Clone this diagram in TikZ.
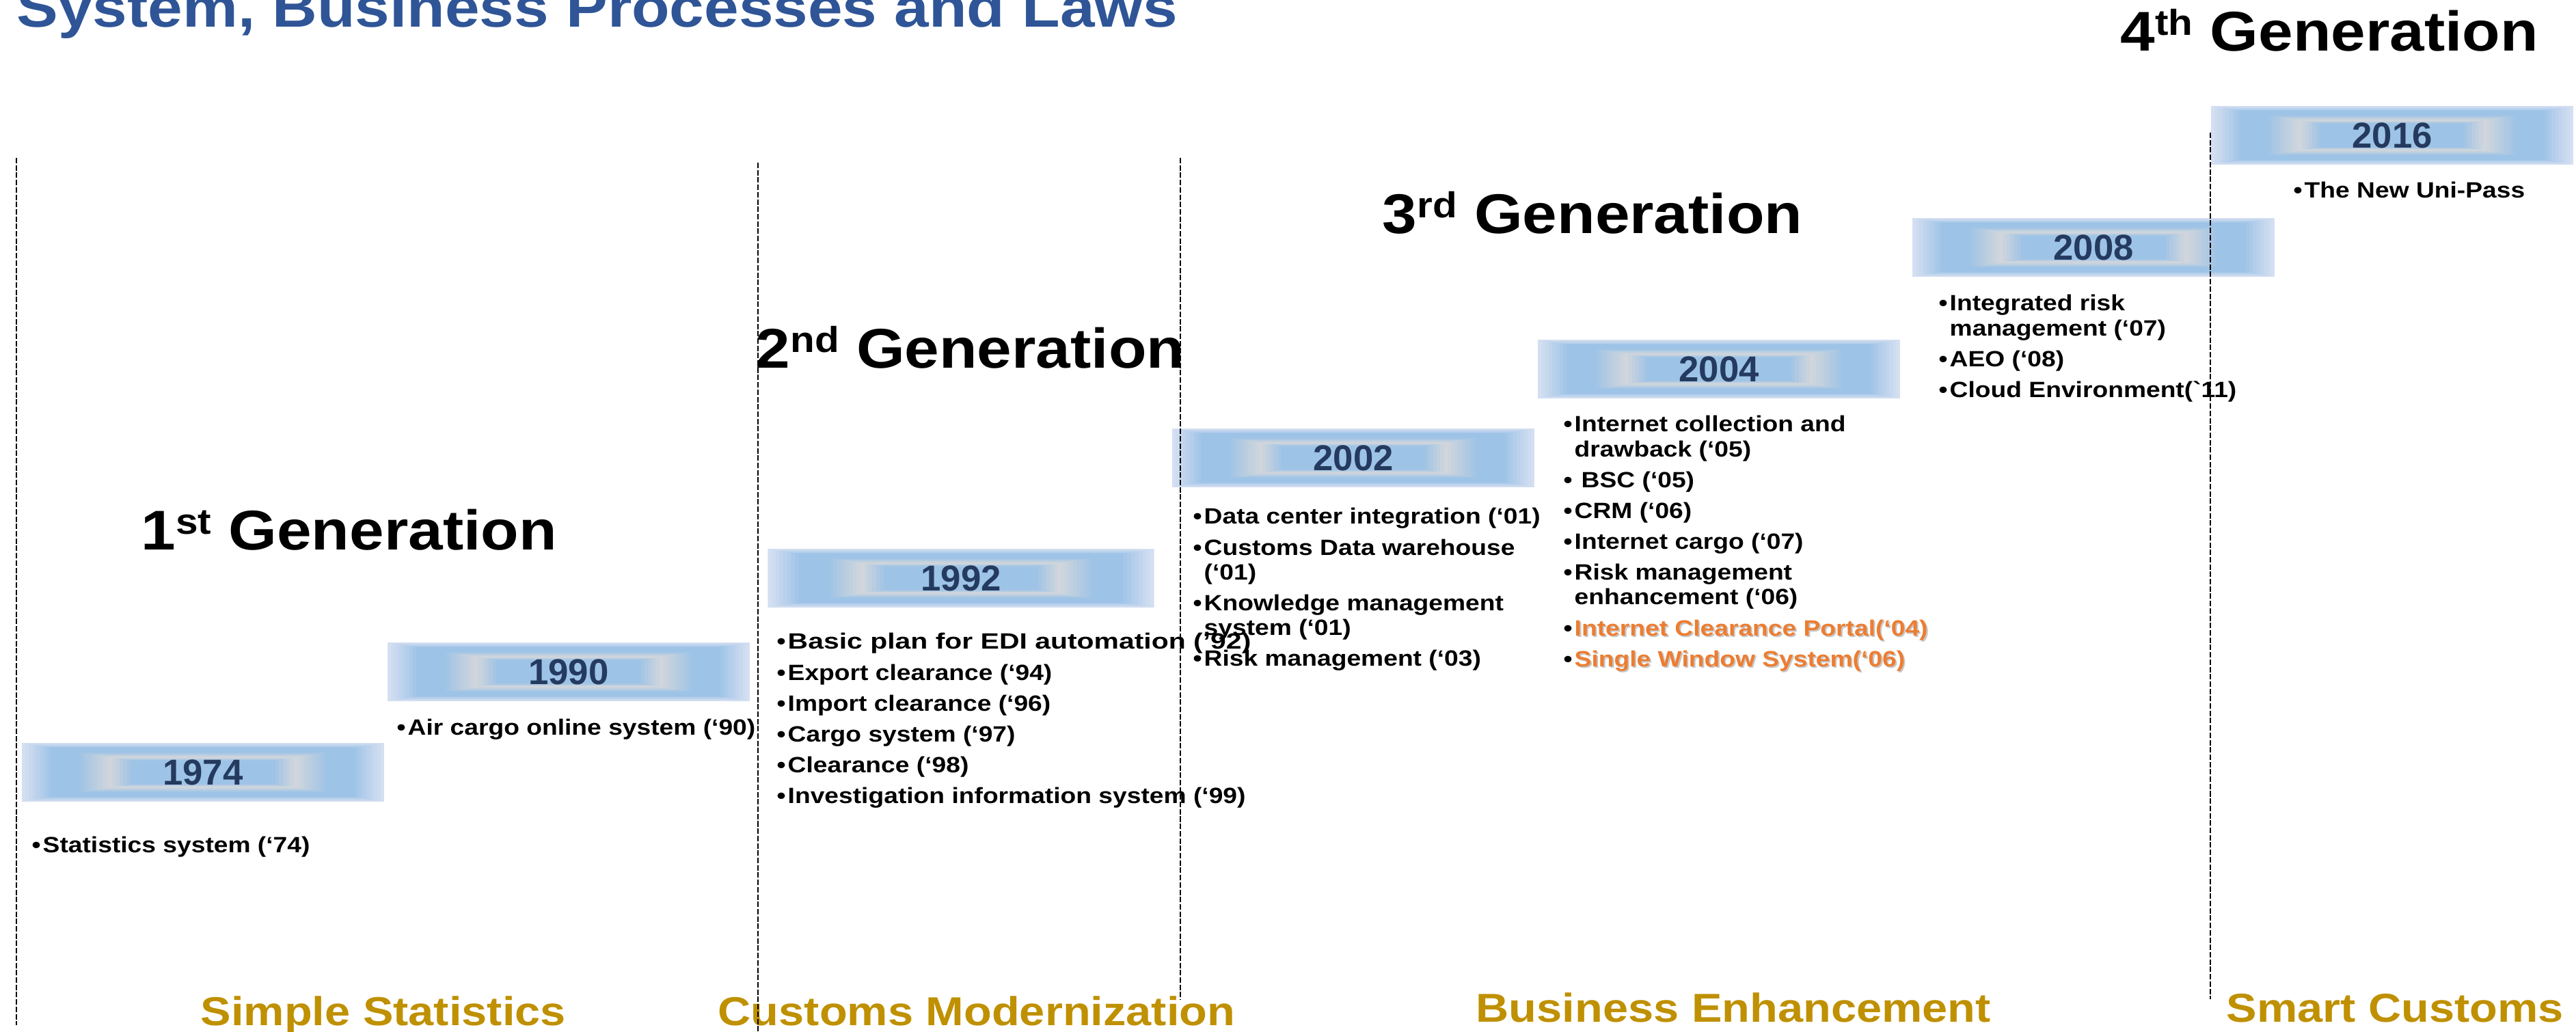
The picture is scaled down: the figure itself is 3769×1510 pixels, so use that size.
\documentclass[tikz,border=0pt]{standalone}
\usepackage{fontspec}
\usepackage{xcolor}
\usepackage{graphicx}
\usetikzlibrary{calc}

\newfontfamily\headfont{Liberation Sans}[FakeStretch=1.11]
\newfontfamily\itemfont{Liberation Sans}[FakeStretch=1.15]
\newfontfamily\yearfont{Liberation Sans}
\newfontfamily\phasefont{Liberation Sans}[FakeStretch=1.13]

\definecolor{boxpale}{HTML}{D5DFF2}
\definecolor{boxblue}{HTML}{9DC3E6}
\definecolor{boxgrey}{HTML}{D2D6DC}
\definecolor{yeartext}{HTML}{243A5E}
\definecolor{titleblue}{HTML}{2F5597}
\definecolor{hiorange}{HTML}{ED7D31}
\definecolor{phasegold}{HTML}{BF9000}

\newcommand{\genord}[1]{\raisebox{0.29em}{\fontsize{15}{15}\selectfont #1}}
\newcommand{\shadowed}[1]{\makebox[0pt][l]{\kern0.6pt\raisebox{-0.6pt}{\color{black!22}#1}}\textcolor{hiorange}{#1}}

\tikzset{
  yearbox/.style={minimum width=5.3cm, minimum height=0.85cm, inner sep=0pt,
    text=yeartext, font=\yearfont\bfseries\fontsize{15}{15}\selectfont,
    path picture={
      \foreach \k in {0,...,8}{
        \pgfmathsetmacro\fr{\k*0.02}\pgfmathsetmacro\pc{\k*12.5}
        \fill[boxblue!\pc!boxpale]
          ($(path picture bounding box.south west)!\fr!(path picture bounding box.center)$) rectangle
          ($(path picture bounding box.north east)!\fr!(path picture bounding box.center)$);
      }
      \foreach \k in {0,...,9}{
        \pgfmathsetmacro\fr{0.3+\k*0.02}\pgfmathsetmacro\pc{\k*100/9}
        \fill[boxgrey!\pc!boxblue]
          ($(path picture bounding box.south west)!\fr!(path picture bounding box.center)$) rectangle
          ($(path picture bounding box.north east)!\fr!(path picture bounding box.center)$);
      }
      \foreach \k in {0,...,6}{
        \pgfmathsetmacro\fr{0.48+\k*0.02}\pgfmathsetmacro\pc{\k*100/6}
        \fill[boxblue!\pc!boxgrey]
          ($(path picture bounding box.south west)!\fr!(path picture bounding box.center)$) rectangle
          ($(path picture bounding box.north east)!\fr!(path picture bounding box.center)$);
      }
    }},
  items/.style={anchor=base west, inner sep=0pt,
    font=\itemfont\bfseries\fontsize{9.2}{10.25}\selectfont},
  gen/.style={anchor=base west, inner sep=0pt,
    font=\headfont\bfseries\fontsize{23.3}{28}\selectfont},
  phase/.style={anchor=base west, inner sep=0pt, text=phasegold,
    font=\phasefont\bfseries\fontsize{16.8}{20}\selectfont},
  sep/.style={line width=0.7pt, dash pattern=on 0.08cm off 0.027cm}
}

\begin{document}
\begin{tikzpicture}[x=0.01cm, y=-0.01cm]
  \useasboundingbox (0,0) rectangle (3769,1510);

  % title, cut by the top edge
  \node[gen, text=titleblue] (title) at (24,40) {System, Business Processes and Laws};

  % generations
  \node[gen] (g1) at (206,805)  {1\genord{st} Generation};
  \node[gen] (g2) at (1105,539) {2\genord{nd} Generation};
  \node[gen] (g3) at (2022,342) {3\genord{rd} Generation};
  \node[gen] (g4) at (3102,75)  {4\genord{th} Generation};

  % year boxes
  \node[yearbox] (y1974) at (297,1130)    {1974};
  \node[yearbox] (y1990) at (832,983)     {1990};
  \node[yearbox, minimum width=5.65cm] (y1992) at (1406,846) {1992};
  \node[yearbox] (y2002) at (1980,670)    {2002};
  \node[yearbox] (y2004) at (2515,540)    {2004};
  \node[yearbox] (y2008) at (3063,362)    {2008};
  \node[yearbox] (y2016) at (3500,198)    {2016};

  % systems of each step
  \node[items] (l1974) at (46,1247) {\begin{tabular}[t]{@{}p{0.16cm}@{}l@{}}
    \textbullet & Statistics system (‘74)\end{tabular}};
  \node[items] (l1990) at (580,1076) {\begin{tabular}[t]{@{}p{0.16cm}@{}l@{}}
    \textbullet & Air cargo online system (‘90)\end{tabular}};
  \node[items] (l1992) at (1136,950) {\begin{tabular}[t]{@{}p{0.16cm}@{}l@{}}
    \textbullet & \scalebox{1.1}[1]{Basic plan for EDI automation (’92)}\\[2.6pt]
    \textbullet & Export clearance (‘94)\\[2.6pt]
    \textbullet & Import clearance (‘96)\\[2.6pt]
    \textbullet & Cargo system (‘97)\\[2.6pt]
    \textbullet & Clearance (‘98)\\[2.6pt]
    \textbullet & Investigation information system (‘99)\end{tabular}};
  \node[items] (l2002) at (1745,767) {\begin{tabular}[t]{@{}p{0.16cm}@{}l@{}}
    \textbullet & Data center integration (‘01)\\[2.6pt]
    \textbullet & Customs Data warehouse\\
                & (‘01)\\[2.6pt]
    \textbullet & Knowledge management\\
                & system (‘01)\\[2.6pt]
    \textbullet & Risk management (‘03)\end{tabular}};
  \node[items] (l2004) at (2287,632) {\begin{tabular}[t]{@{}p{0.16cm}@{}l@{}}
    \textbullet & Internet collection and\\
                & drawback (‘05)\\[2.6pt]
    \textbullet & \hspace{0.1cm}BSC (‘05)\\[2.6pt]
    \textbullet & CRM (‘06)\\[2.6pt]
    \textbullet & Internet cargo (‘07)\\[2.6pt]
    \textbullet & Risk management\\
                & enhancement (‘06)\\[2.6pt]
    \textbullet & \shadowed{Internet Clearance Portal(‘04)}\\[2.6pt]
    \textbullet & \shadowed{Single Window System(‘06)}\end{tabular}};
  \node[items] (l2008) at (2836,455) {\begin{tabular}[t]{@{}p{0.16cm}@{}l@{}}
    \textbullet & Integrated risk\\
                & management (‘07)\\[2.6pt]
    \textbullet & AEO (‘08)\\[2.6pt]
    \textbullet & Cloud Environment(\char"60 11)\end{tabular}};
  \node[items] (l2016) at (3355,290) {\begin{tabular}[t]{@{}p{0.16cm}@{}l@{}}
    \textbullet & The New Uni-Pass\end{tabular}};

  % phases
  \node[phase] (p1) at (293,1500)  {Simple Statistics};
  \node[phase] (p2) at (1050,1500) {Customs Modernization};
  \node[phase] (p3) at (2159,1495) {Business Enhancement};
  \node[phase] (p4) at (3257,1495) {Smart Customs};

  % separators
  \draw[sep] (24,231)   -- (24,1500);
  \draw[sep] (1109,238) -- (1109,1510);
  \draw[sep] (1727,231) -- (1727,1463);
  \draw[sep] (3234,194) -- (3234,1462);
\end{tikzpicture}
\end{document}
